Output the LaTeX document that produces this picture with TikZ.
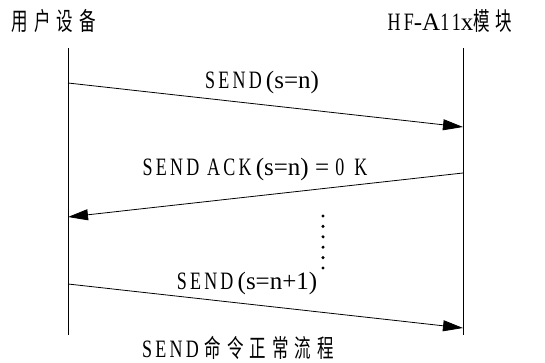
\documentclass[tikz,border=0pt]{standalone}
\usepackage{fontspec}
\setmainfont{Liberation Serif}
\newfontfamily\capfont{Liberation Serif}[FakeStretch=0.72, LetterSpace=13]
\newfontfamily\cjk{Noto Sans CJK SC}[FakeStretch=0.66]
\usetikzlibrary{arrows.meta,positioning}
\tikzset{
        lifeline/.style={line width=0.8pt}, % vertical lines of both parties
        msg/.style={line width=0.8pt, -{Triangle[length=20pt,width=11pt]}}, % message arrows
        label text/.style={inner sep=0pt, font=\fontsize{25}{27}\selectfont},
    }
\newcommand{\cgap}{\hspace*{6pt}} % gap between Chinese characters

\begin{document}
\begin{tikzpicture}[x=1pt, y=-1pt]
    \useasboundingbox (0,0) rectangle (545,363);
    % parties
    \node [label text] (user) at (54,21) {\cjk 用\cgap 户\cgap 设\cgap 备};
    \node [label text] (module) at (450,21) {{\capfont HF}-A{\capfont 11}x{\cjk 模\cgap 块}};
    \coordinate (user top) at (68,48);
    \coordinate (user bot) at (68,335);
    \coordinate (mod top) at (463,48);
    \coordinate (mod bot) at (463,335);
    \draw [lifeline] (user top) -- (user bot);
    \draw [lifeline] (mod top) -- (mod bot);
    % messages
    \coordinate (u1) at (68,83);
    \coordinate (m1) at (463,127);
    \coordinate (m2) at (463,173);
    \coordinate (u2) at (68,217);
    \coordinate (u3) at (68,284);
    \coordinate (m3) at (463,328);
    \draw [msg] (u1) -- (m1);
    \draw [msg] (m2) -- (u2);
    \draw [msg] (u3) -- (m3);
    \node [label text] (send1) at (262,82) {{\capfont SEND}\,(s=n)};
    \node [label text] (ack) at (255,169) {{\capfont SEND ACK}\,(s=n) = {\capfont\addfontfeature{LetterSpace=40} 0K}};
    \node [label text] (send2) at (247,283) {{\capfont SEND}\,(s=n+1)};
    % more messages in between
    \foreach \i in {0,...,5}
        \fill (323,216+\i*10.4) circle (1.7pt);
    \node [label text] (caption) at (238,348) {{\capfont SEND}\cgap{\cjk 命\cgap 令\cgap 正\cgap 常\cgap 流\cgap 程}};
\end{tikzpicture}
\end{document}
